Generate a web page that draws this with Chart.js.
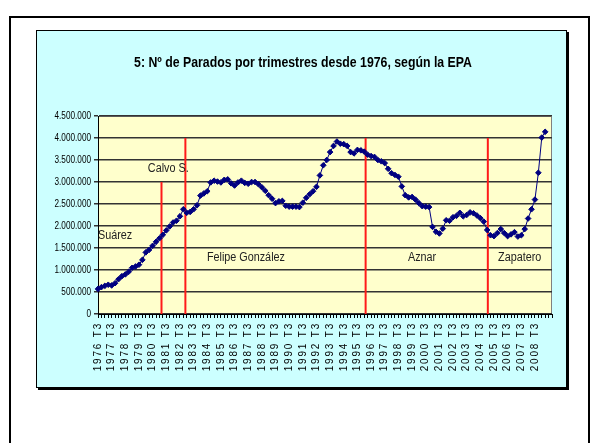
<!DOCTYPE html>
<html>
<head>
<meta charset="UTF-8">
<title>Parados por trimestres EPA</title>
<script src="https://cdn.jsdelivr.net/npm/chart.js"></script>
<style>
  body { margin: 0; background: #fff; }
  #marco { position: absolute; left: 9px; top: 16px; width: 577px; height: 500px; border: 2px solid #000; }
  #caja { position: absolute; left: 36px; top: 30px; width: 529px; height: 356px; background: #ccffff;
          border: 1px solid #000; box-shadow: 2px 2px 0 #000; }
  #lienzo { position: absolute; left: 0; top: 0; }
</style>
</head>
<body>
<div id="marco"></div>
<div id="caja"></div>
<div id="lienzo"><canvas id="grafico" width="598" height="443"></canvas></div>

<script>
// titulo y textos
const titulo = '5: Nº de Parados por trimestres desde 1976, según la EPA';

// parados (miles), trimestral desde 1976 T3 hasta 2009 T2
const parados = [
  570, 610,                 // 1976
  640, 665, 650, 700,       // 1977
  790, 860, 900, 960,       // 1978
  1050, 1080, 1120, 1230,   // 1979
  1400, 1460, 1550, 1640,   // 1980
  1720, 1800, 1900, 1990,   // 1981
  2080, 2120, 2220, 2380,   // 1982
  2300, 2320, 2380, 2470,   // 1983
  2690, 2740, 2790, 2990,   // 1984
  3030, 3010, 2990, 3050,   // 1985
  3060, 2970, 2920, 2990,   // 1986
  3030, 2980, 2960, 3000,   // 1987
  3000, 2950, 2880, 2800,   // 1988
  2700, 2620, 2520, 2560,   // 1989
  2570, 2460, 2440, 2440,   // 1990
  2440, 2430, 2530, 2640,   // 1991
  2720, 2790, 2890, 3150,   // 1992
  3380, 3500, 3680, 3820,   // 1993
  3920, 3870, 3860, 3820,   // 1994
  3680, 3650, 3730, 3720,   // 1995
  3690, 3620, 3590, 3570,   // 1996
  3500, 3470, 3430, 3300,   // 1997
  3200, 3160, 3120, 2900,   // 1998
  2700, 2650, 2660, 2600,   // 1999
  2520, 2450, 2440, 2430,   // 2000
  1980, 1870, 1830, 1940,   // 2001
  2130, 2120, 2200, 2230,   // 2002
  2300, 2220, 2250, 2310,   // 2003
  2290, 2240, 2180, 2100,   // 2004
  1910, 1790, 1770, 1840,   // 2005
  1930, 1840, 1770, 1810,   // 2006
  1860, 1760, 1790, 1930,   // 2007
  2170, 2380, 2600, 3210,   // 2008
  4010, 4140                // 2009
];

// eje de categorias: 1976 T3 .. 2009 T2, y dos celdas vacias al final
const trimestres = [];
for (let a = 1976; a <= 2009; a++) {
  for (let t = 1; t <= 4; t++) {
    if (a === 1976 && t < 3) continue;
    trimestres.push(a === 2009 && t > 2 ? '' : a + ' T' + t);
  }
}

// presidentes: rotulo, posicion (indice trimestre, parados)
const presidentes = ['Suárez', 'Calvo S.', 'Felipe González', 'Aznar', 'Zapatero'];
const rotuloIdx = [0, 14.6, 31.9, 90.8, 117.2];
const rotuloVal = [1770000, 3310000, 1290000, 1290000, 1270000];

// lineas rojas de cambio de gobierno
const cambioIdx = [18.6, 25.6, 78.4, 114.2];
const cambioTope = [3000000, 4000000, 4000000, 4000000];

const fuente = "'Liberation Sans', Arial, sans-serif";
const estrecho = 0.82; // el excel original sale con letra estrecha

// categoria con letras espaciadas (como el excel)
class CategoriaEspaciada extends Chart.CategoryScale {
  drawLabels(area) {
    this.ctx.save();
    this.ctx.letterSpacing = '1.8px';
    super.drawLabels(area);
    this.ctx.restore();
  }
}
CategoriaEspaciada.id = 'categoriaEspaciada';
CategoriaEspaciada.defaults = Chart.CategoryScale.defaults;

// eje de valores con numeros estrechos
class LinealEstrecha extends Chart.LinearScale {
  drawLabels(area) {
    const c = this.ctx;
    const ax = this.right - 7;
    c.save();
    c.translate(ax, 0);
    c.scale(estrecho, 1);
    c.translate(-ax, 0);
    super.drawLabels(area);
    c.restore();
  }
}
LinealEstrecha.id = 'linealEstrecha';
LinealEstrecha.defaults = Chart.LinearScale.defaults;
Chart.register(CategoriaEspaciada, LinealEstrecha);

function textoEstrecho(c, txt, x, y, f) {
  c.save();
  c.translate(x, y);
  c.scale(f, 1);
  c.fillText(txt, 0, 0);
  c.restore();
}

const adornos = {
  id: 'adornos',
  beforeDraw(chart) {
    const { ctx, chartArea: a } = chart;
    ctx.save();
    ctx.fillStyle = '#ffffcc';
    ctx.fillRect(a.left, a.top, a.right - a.left, a.bottom - a.top);
    ctx.strokeStyle = '#808080';
    ctx.lineWidth = 1;
    ctx.beginPath();
    ctx.moveTo(a.left, a.top + 0.5);
    ctx.lineTo(a.right - 0.5, a.top + 0.5);
    ctx.lineTo(a.right - 0.5, a.bottom);
    ctx.stroke();
    ctx.restore();
  },
  beforeDatasetsDraw(chart) {
    const { ctx, scales: { x, y } } = chart;
    ctx.save();
    ctx.strokeStyle = '#ff1a1a';
    ctx.lineWidth = 2;
    cambioIdx.forEach((c, i) => {
      const px = x.getPixelForValue(c);
      ctx.beginPath();
      ctx.moveTo(px, y.getPixelForValue(0));
      ctx.lineTo(px, y.getPixelForValue(cambioTope[i]));
      ctx.stroke();
    });
    ctx.fillStyle = '#222';
    ctx.font = '12px ' + fuente;
    ctx.textAlign = 'left';
    ctx.textBaseline = 'middle';
    presidentes.forEach((p, i) => {
      textoEstrecho(ctx, p, x.getPixelForValue(rotuloIdx[i]), y.getPixelForValue(rotuloVal[i]), 0.9);
    });
    ctx.restore();
  },
  afterDraw(chart) {
    const ctx = chart.ctx;
    ctx.save();
    ctx.fillStyle = '#000';
    ctx.font = 'bold 15px ' + fuente;
    ctx.textAlign = 'center';
    ctx.textBaseline = 'middle';
    textoEstrecho(ctx, titulo, 303, 63, estrecho);
    ctx.restore();
  }
};

const ctx = document.getElementById('grafico').getContext('2d');
const grafico = new Chart(ctx, {
  type: 'line',
  data: {
    labels: trimestres,
    datasets: [{
      data: parados.map(v => v * 1000),
      borderColor: '#000080',
      backgroundColor: '#000080',
      borderWidth: 1,
      pointStyle: 'rectRot',
      pointRadius: 2.8,
      pointBorderWidth: 1,
      tension: 0,
      fill: false
    }]
  },
  options: {
    responsive: false,
    animation: false,
    devicePixelRatio: 1,
    layout: { padding: { left: 40, right: 46, top: 116, bottom: 69 } },
    plugins: { legend: { display: false }, tooltip: { enabled: false }, title: { display: false } },
    scales: {
      x: {
        type: 'categoriaEspaciada',
        offset: false,
        afterFit: s => { s.height = 60; },
        grid: { drawOnChartArea: false, drawTicks: true, tickLength: 4, color: '#000' },
        border: { color: '#000', width: 1 },
        ticks: {
          autoSkip: false,
          minRotation: 90,
          maxRotation: 90,
          padding: 4,
          color: '#000',
          font: { family: fuente, size: 10 },
          callback: function (v, i) { return i % 4 === 0 ? this.getLabelForValue(v) : ''; }
        }
      },
      y: {
        type: 'linealEstrecha',
        min: 0,
        max: 4500000,
        afterFit: s => { s.width = 58; },
        grid: { color: '#333', lineWidth: 1.5, tickLength: 4 },
        border: { color: '#000', width: 1 },
        ticks: {
          stepSize: 500000,
          padding: 3,
          color: '#000',
          font: { family: fuente, size: 10 },
          callback: v => String(v).replace(/\B(?=(\d{3})+(?!\d))/g, '.')
        }
      }
    }
  },
  plugins: [adornos]
});
</script>
</body>
</html>
